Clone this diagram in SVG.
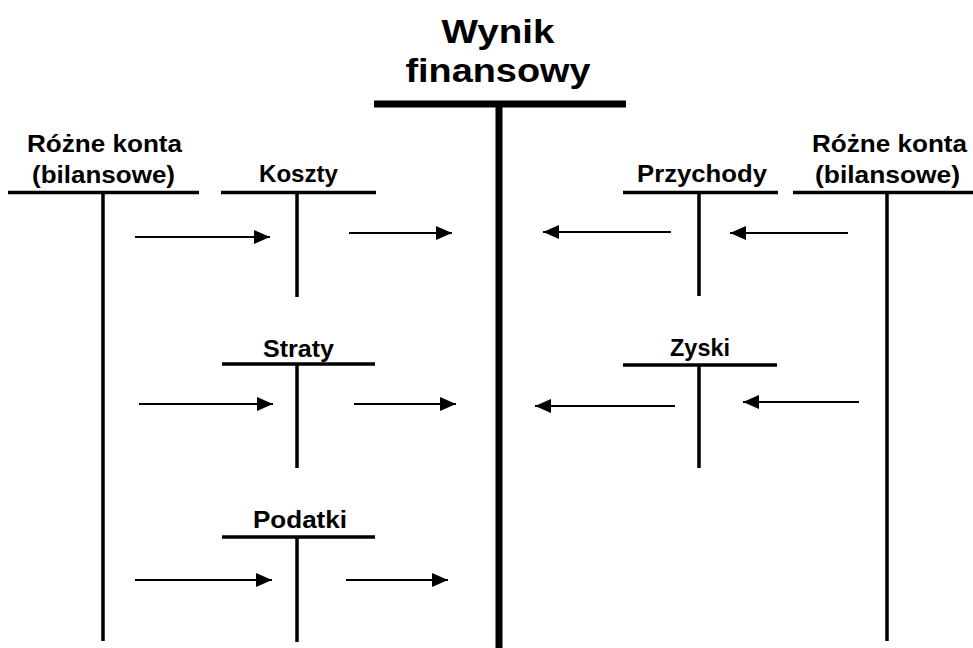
<svg xmlns="http://www.w3.org/2000/svg" width="973" height="648" viewBox="0 0 973 648">
<defs>
<style>
.t{stroke:#000;stroke-width:3.5;fill:none;stroke-linecap:butt}
.m{stroke:#000;stroke-width:7;fill:none}
.a{stroke:#000;stroke-width:2;fill:none}
.lb{font-family:"Liberation Sans",Arial,sans-serif;font-weight:bold;font-size:23px;fill:#000;text-anchor:middle}
.tt{font-family:"Liberation Sans",Arial,sans-serif;font-weight:bold;font-size:33px;fill:#000;text-anchor:middle}
</style>
<marker id="ah" viewBox="0 0 16 14" refX="16" refY="7" markerWidth="16" markerHeight="14" markerUnits="userSpaceOnUse" orient="auto">
<path d="M0,0 L16,7 L0,14 Z" fill="#000"/>
</marker>
</defs>
<rect width="973" height="648" fill="#fff"/>
<g id="wynik">
<text class="tt" x="498" y="43" textLength="113" lengthAdjust="spacingAndGlyphs">Wynik</text>
<text class="tt" x="498" y="82" textLength="185" lengthAdjust="spacingAndGlyphs">finansowy</text>
<path class="m" d="M374,104 H626 M499,104 V648"/>
</g>
<g id="rozne-lewe">
<text class="lb" x="104.5" y="152" textLength="155" lengthAdjust="spacingAndGlyphs">Różne konta</text>
<text class="lb" x="103.5" y="183" textLength="143" lengthAdjust="spacingAndGlyphs">(bilansowe)</text>
<path class="t" d="M8,192.5 H199 M103,192.5 V641"/>
</g>
<g id="koszty">
<text class="lb" x="298.5" y="182" textLength="79" lengthAdjust="spacingAndGlyphs">Koszty</text>
<path class="t" d="M221,192.5 H376 M297,192.5 V297"/>
</g>
<g id="przychody">
<text class="lb" x="702" y="182" textLength="130" lengthAdjust="spacingAndGlyphs">Przychody</text>
<path class="t" d="M623,192.5 H778 M699,192.5 V296"/>
</g>
<g id="rozne-prawe">
<text class="lb" x="889.5" y="152" textLength="155" lengthAdjust="spacingAndGlyphs">Różne konta</text>
<text class="lb" x="887.5" y="183" textLength="145" lengthAdjust="spacingAndGlyphs">(bilansowe)</text>
<path class="t" d="M793,192.5 H973 M887,192.5 V641"/>
</g>
<g id="straty">
<text class="lb" x="298.5" y="357" textLength="71" lengthAdjust="spacingAndGlyphs">Straty</text>
<path class="t" d="M222,364 H375 M297,364 V468"/>
</g>
<g id="zyski">
<text class="lb" x="700" y="356" textLength="60" lengthAdjust="spacingAndGlyphs">Zyski</text>
<path class="t" d="M623,365 H777 M699,365 V468"/>
</g>
<g id="podatki">
<text class="lb" x="300" y="528" textLength="94" lengthAdjust="spacingAndGlyphs">Podatki</text>
<path class="t" d="M222,537 H375 M297,537 V642"/>
</g>
<g id="connectors" class="a">
<line x1="135" y1="237" x2="270" y2="237" marker-end="url(#ah)"/>
<line x1="349" y1="233" x2="452" y2="233" marker-end="url(#ah)"/>
<line x1="671" y1="232" x2="543" y2="232" marker-end="url(#ah)"/>
<line x1="848" y1="233" x2="730" y2="233" marker-end="url(#ah)"/>
<line x1="139" y1="404" x2="273" y2="404" marker-end="url(#ah)"/>
<line x1="354" y1="404" x2="456" y2="404" marker-end="url(#ah)"/>
<line x1="675" y1="406" x2="535" y2="406" marker-end="url(#ah)"/>
<line x1="859" y1="402" x2="743" y2="402" marker-end="url(#ah)"/>
<line x1="135" y1="580" x2="272" y2="580" marker-end="url(#ah)"/>
<line x1="346" y1="580" x2="448" y2="580" marker-end="url(#ah)"/>
</g>
</svg>
